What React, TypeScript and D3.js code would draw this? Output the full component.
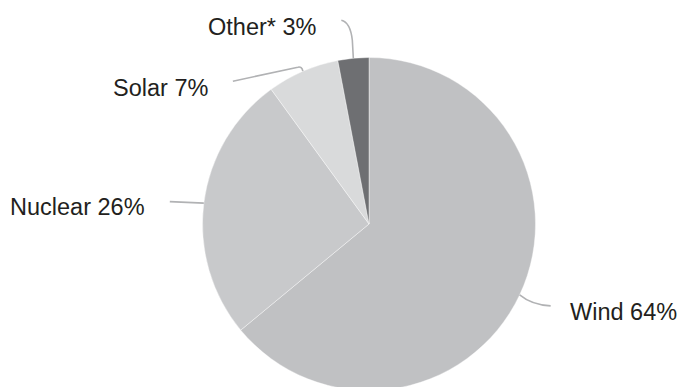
import React from "react";
import * as d3 from "d3";

const categories = ["Wind", "Nuclear", "Solar", "Other*"];
const values = [64, 26, 7, 3];
const labels = ["Wind 64%", "Nuclear 26%", "Solar 7%", "Other* 3%"];
const colors = ["#c0c1c3", "#c8c9cb", "#d9dadb", "#6e6f72"];

const W = 679;
const H = 387;
const CX = 369;
const CY = 224;
const R = 166.5;

// label anchor positions (x, baseline y)
const labelPos: [number, number][] = [
  [570, 320],
  [10, 215],
  [113, 96],
  [208, 35],
];

export default function App() {
  const pie = d3
    .pie<number>()
    .value((d) => d)
    .sort(null)
    .startAngle(0)
    .endAngle(2 * Math.PI);
  const arcs = pie(values);
  const arc = d3.arc<d3.PieArcDatum<number>>().innerRadius(0).outerRadius(R);

  const edge = (a: d3.PieArcDatum<number>) => {
    const m = (a.startAngle + a.endAngle) / 2;
    return [CX + R * Math.sin(m), CY - R * Math.cos(m)];
  };

  const leaders = arcs.map((a, i) => {
    const [x, y] = edge(a);
    const p = d3.path();
    if (i === 0) {
      p.moveTo(x, y);
      p.quadraticCurveTo(x + 12, y + 10, x + 31, y + 11);
    } else if (i === 1) {
      p.moveTo(x, y);
      p.lineTo(x - 34, y - 1.5);
    } else if (i === 2) {
      p.moveTo(x, y);
      p.quadraticCurveTo(x - 1, y - 5, x - 5, y - 4);
      p.lineTo(x - 70, y + 10);
    } else {
      p.moveTo(x, y);
      p.lineTo(x - 1, y - 18);
      p.quadraticCurveTo(x - 3, y - 36, x - 12, y - 38);
    }
    return p.toString();
  });

  return (
    <svg
      width={W}
      height={H}
      style={{ position: "fixed", left: 0, top: 0, background: "#fff" }}
    >
      <g transform={`translate(${CX},${CY})`}>
        {arcs.map((a, i) => (
          <path
            key={categories[i]}
            d={arc(a) || ""}
            fill={colors[i]}
            stroke="#ffffff"
            strokeWidth={0.4}
          />
        ))}
      </g>
      {leaders.map((d, i) => (
        <path
          key={"l" + i}
          d={d}
          fill="none"
          stroke="#b1b2b4"
          strokeWidth={1.6}
        />
      ))}
      {labels.map((t, i) => (
        <text
          key={"t" + i}
          x={labelPos[i][0]}
          y={labelPos[i][1]}
          fontFamily="'Liberation Sans', Arial, sans-serif"
          fontSize={23.5}
          fill="#231f20"
        >
          {t}
        </text>
      ))}
    </svg>
  );
}
